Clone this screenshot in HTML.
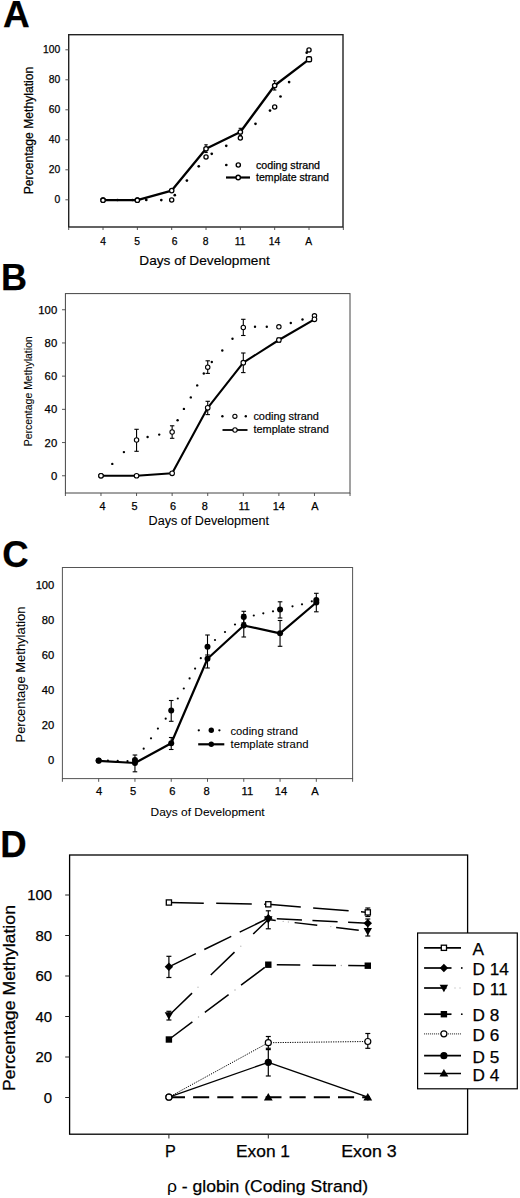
<!DOCTYPE html>
<html><head><meta charset="utf-8"><style>
html,body{margin:0;padding:0;background:#fff;overflow:hidden;width:520px;height:1198px;}
svg{display:block;}
text{font-family:"Liberation Sans",sans-serif;fill:#000;stroke:#000;stroke-width:0.25px;}
text.lt{stroke-width:0.08px;}
text.md{stroke-width:0.18px;}
</style></head><body>
<svg width="520" height="1198" viewBox="0 0 520 1198">
<rect width="520" height="1198" fill="#fff"/>
<text x="3.0" y="27.3" font-size="37" text-anchor="start" font-weight="bold">A</text>
<rect x="68.7" y="34.7" width="274.3" height="192.3" fill="none" stroke="#222" stroke-width="1.4"/>
<line x1="65.4" y1="199.8" x2="68.7" y2="199.8" stroke="#444" stroke-width="0.9"/>
<text x="60.3" y="203.3" font-size="10.3" text-anchor="end">0</text>
<line x1="65.4" y1="169.8" x2="68.7" y2="169.8" stroke="#444" stroke-width="0.9"/>
<text x="60.3" y="173.3" font-size="10.3" text-anchor="end">20</text>
<line x1="65.4" y1="139.8" x2="68.7" y2="139.8" stroke="#444" stroke-width="0.9"/>
<text x="60.3" y="143.3" font-size="10.3" text-anchor="end">40</text>
<line x1="65.4" y1="109.80000000000001" x2="68.7" y2="109.80000000000001" stroke="#444" stroke-width="0.9"/>
<text x="60.3" y="113.30000000000001" font-size="10.3" text-anchor="end">60</text>
<line x1="65.4" y1="79.80000000000001" x2="68.7" y2="79.80000000000001" stroke="#444" stroke-width="0.9"/>
<text x="60.3" y="83.30000000000001" font-size="10.3" text-anchor="end">80</text>
<line x1="65.4" y1="49.80000000000001" x2="68.7" y2="49.80000000000001" stroke="#444" stroke-width="0.9"/>
<text x="60.3" y="53.30000000000001" font-size="10.3" text-anchor="end">100</text>
<line x1="68.7" y1="227.0" x2="68.7" y2="230.0" stroke="#444" stroke-width="0.9"/>
<line x1="103.03" y1="227.0" x2="103.03" y2="230.0" stroke="#444" stroke-width="0.9"/>
<line x1="137.36" y1="227.0" x2="137.36" y2="230.0" stroke="#444" stroke-width="0.9"/>
<line x1="171.69" y1="227.0" x2="171.69" y2="230.0" stroke="#444" stroke-width="0.9"/>
<line x1="206.01999999999998" y1="227.0" x2="206.01999999999998" y2="230.0" stroke="#444" stroke-width="0.9"/>
<line x1="240.34999999999997" y1="227.0" x2="240.34999999999997" y2="230.0" stroke="#444" stroke-width="0.9"/>
<line x1="274.68" y1="227.0" x2="274.68" y2="230.0" stroke="#444" stroke-width="0.9"/>
<line x1="309.01" y1="227.0" x2="309.01" y2="230.0" stroke="#444" stroke-width="0.9"/>
<line x1="343.34" y1="227.0" x2="343.34" y2="230.0" stroke="#444" stroke-width="0.9"/>
<text x="103.1" y="245.0" font-size="10.3" text-anchor="middle">4</text>
<text x="137.0" y="245.0" font-size="10.3" text-anchor="middle">5</text>
<text x="174.6" y="245.0" font-size="10.3" text-anchor="middle">6</text>
<text x="205.6" y="245.0" font-size="10.3" text-anchor="middle">8</text>
<text x="240.1" y="245.0" font-size="10.3" text-anchor="middle">11</text>
<text x="274.6" y="245.0" font-size="10.3" text-anchor="middle">14</text>
<text x="308.6" y="245.0" font-size="10.3" text-anchor="middle">A</text>
<text x="139.3" y="264.6" font-size="13.5" text-anchor="start" textLength="130.5" lengthAdjust="spacingAndGlyphs" class="md">Days of Development</text>
<text transform="translate(32.6,130.5) rotate(-90)" x="0" y="0" font-size="12" text-anchor="middle" textLength="127.5" lengthAdjust="spacingAndGlyphs">Percentage Methylation</text>
<circle cx="117.5" cy="200" r="1.35" fill="#000"/>
<circle cx="132.5" cy="200" r="1.35" fill="#000"/>
<circle cx="146.3" cy="199.9" r="1.35" fill="#000"/>
<circle cx="161.3" cy="200.1" r="1.35" fill="#000"/>
<circle cx="174.8" cy="195.2" r="1.35" fill="#000"/>
<circle cx="186.9" cy="180.6" r="1.35" fill="#000"/>
<circle cx="198.75" cy="166.3" r="1.35" fill="#000"/>
<circle cx="211.75" cy="153.8" r="1.35" fill="#000"/>
<circle cx="226.25" cy="145.8" r="1.35" fill="#000"/>
<circle cx="255.5" cy="123.8" r="1.35" fill="#000"/>
<circle cx="270.0" cy="110.6" r="1.35" fill="#000"/>
<circle cx="280.5" cy="96.5" r="1.35" fill="#000"/>
<circle cx="289.1" cy="82.1" r="1.35" fill="#000"/>
<circle cx="306.7" cy="52.7" r="1.35" fill="#000"/>
<polyline points="103.03,200.20 137.36,200.20 171.69,190.60 206.02,148.80 240.35,132.00 274.68,85.50 309.01,59.30" fill="none" stroke="#000" stroke-width="2.3" stroke-linecap="butt" stroke-linejoin="round"/>
<line x1="206.01999999999998" y1="144.8" x2="206.01999999999998" y2="152.5" stroke="#000" stroke-width="1.1"/>
<line x1="204.32" y1="144.8" x2="207.71999999999997" y2="144.8" stroke="#000" stroke-width="1.1"/>
<line x1="204.32" y1="152.5" x2="207.71999999999997" y2="152.5" stroke="#000" stroke-width="1.1"/>
<line x1="240.34999999999997" y1="128.3" x2="240.34999999999997" y2="135.5" stroke="#000" stroke-width="1.1"/>
<line x1="238.64999999999998" y1="128.3" x2="242.04999999999995" y2="128.3" stroke="#000" stroke-width="1.1"/>
<line x1="238.64999999999998" y1="135.5" x2="242.04999999999995" y2="135.5" stroke="#000" stroke-width="1.1"/>
<line x1="274.68" y1="80.8" x2="274.68" y2="90" stroke="#000" stroke-width="1.1"/>
<line x1="272.98" y1="80.8" x2="276.38" y2="80.8" stroke="#000" stroke-width="1.1"/>
<line x1="272.98" y1="90" x2="276.38" y2="90" stroke="#000" stroke-width="1.1"/>
<circle cx="103.03" cy="200.00" r="2.1" fill="#fff" stroke="#000" stroke-width="1.3"/>
<circle cx="137.36" cy="200.00" r="2.1" fill="#fff" stroke="#000" stroke-width="1.3"/>
<circle cx="171.69" cy="200.00" r="2.1" fill="#fff" stroke="#000" stroke-width="1.3"/>
<circle cx="206.02" cy="157.00" r="2.1" fill="#fff" stroke="#000" stroke-width="1.3"/>
<circle cx="240.35" cy="138.00" r="2.1" fill="#fff" stroke="#000" stroke-width="1.3"/>
<circle cx="274.68" cy="107.00" r="2.1" fill="#fff" stroke="#000" stroke-width="1.3"/>
<circle cx="309.01" cy="50.00" r="2.1" fill="#fff" stroke="#000" stroke-width="1.3"/>
<circle cx="103.03" cy="200.20" r="2.2" fill="#fff" stroke="#000" stroke-width="1.3"/>
<circle cx="137.36" cy="200.20" r="2.2" fill="#fff" stroke="#000" stroke-width="1.3"/>
<circle cx="171.69" cy="190.60" r="2.2" fill="#fff" stroke="#000" stroke-width="1.3"/>
<circle cx="206.02" cy="148.80" r="2.2" fill="#fff" stroke="#000" stroke-width="1.3"/>
<circle cx="240.35" cy="132.00" r="2.2" fill="#fff" stroke="#000" stroke-width="1.3"/>
<circle cx="274.68" cy="85.50" r="2.2" fill="#fff" stroke="#000" stroke-width="1.3"/>
<rect x="306.51" y="56.80" width="5" height="5" rx="1.4" fill="#fff" stroke="#000" stroke-width="1.4"/>
<circle cx="226.3" cy="165" r="1.35" fill="#000"/>
<circle cx="238.30" cy="165.00" r="2.1" fill="#fff" stroke="#000" stroke-width="1.4"/>
<text x="256.0" y="168.8" font-size="10.5" text-anchor="start" textLength="64" lengthAdjust="spacingAndGlyphs">coding strand</text>
<line x1="226" y1="177.5" x2="250" y2="177.5" stroke="#000" stroke-width="2.2"/>
<circle cx="238.20" cy="177.50" r="2.2" fill="#fff" stroke="#000" stroke-width="1.4"/>
<text x="256.0" y="181.3" font-size="10.5" text-anchor="start" textLength="73" lengthAdjust="spacingAndGlyphs">template strand</text>
<text x="1.0" y="289.6" font-size="36" text-anchor="start" font-weight="bold">B</text>
<rect x="65.4" y="293.6" width="284.6" height="199.39999999999998" fill="none" stroke="#444" stroke-width="1"/>
<line x1="62" y1="475.75" x2="65.4" y2="475.75" stroke="#444" stroke-width="0.9"/>
<text x="57.2" y="479.75" font-size="11.3" text-anchor="end">0</text>
<line x1="62" y1="442.55" x2="65.4" y2="442.55" stroke="#444" stroke-width="0.9"/>
<text x="57.2" y="446.55" font-size="11.3" text-anchor="end">20</text>
<line x1="62" y1="409.35" x2="65.4" y2="409.35" stroke="#444" stroke-width="0.9"/>
<text x="57.2" y="413.35" font-size="11.3" text-anchor="end">40</text>
<line x1="62" y1="376.15" x2="65.4" y2="376.15" stroke="#444" stroke-width="0.9"/>
<text x="57.2" y="380.15" font-size="11.3" text-anchor="end">60</text>
<line x1="62" y1="342.95000000000005" x2="65.4" y2="342.95000000000005" stroke="#444" stroke-width="0.9"/>
<text x="57.2" y="346.95000000000005" font-size="11.3" text-anchor="end">80</text>
<line x1="62" y1="309.75" x2="65.4" y2="309.75" stroke="#444" stroke-width="0.9"/>
<text x="57.2" y="313.75" font-size="11.3" text-anchor="end">100</text>
<line x1="65.4" y1="493.0" x2="65.4" y2="496.0" stroke="#444" stroke-width="0.9"/>
<line x1="100.98" y1="493.0" x2="100.98" y2="496.0" stroke="#444" stroke-width="0.9"/>
<line x1="136.56" y1="493.0" x2="136.56" y2="496.0" stroke="#444" stroke-width="0.9"/>
<line x1="172.14" y1="493.0" x2="172.14" y2="496.0" stroke="#444" stroke-width="0.9"/>
<line x1="207.72" y1="493.0" x2="207.72" y2="496.0" stroke="#444" stroke-width="0.9"/>
<line x1="243.29999999999998" y1="493.0" x2="243.29999999999998" y2="496.0" stroke="#444" stroke-width="0.9"/>
<line x1="278.88" y1="493.0" x2="278.88" y2="496.0" stroke="#444" stroke-width="0.9"/>
<line x1="314.46000000000004" y1="493.0" x2="314.46000000000004" y2="496.0" stroke="#444" stroke-width="0.9"/>
<line x1="350.03999999999996" y1="493.0" x2="350.03999999999996" y2="496.0" stroke="#444" stroke-width="0.9"/>
<text x="102.5" y="509.6" font-size="10.9" text-anchor="middle">4</text>
<text x="134.6" y="509.6" font-size="10.9" text-anchor="middle">5</text>
<text x="173.0" y="509.6" font-size="10.9" text-anchor="middle">6</text>
<text x="204.8" y="509.6" font-size="10.9" text-anchor="middle">8</text>
<text x="244.2" y="509.6" font-size="10.9" text-anchor="middle">11</text>
<text x="278.7" y="509.6" font-size="10.9" text-anchor="middle">14</text>
<text x="314.8" y="509.6" font-size="10.9" text-anchor="middle">A</text>
<text x="148.6" y="524.5" font-size="12.3" text-anchor="start" textLength="120.5" lengthAdjust="spacingAndGlyphs" class="lt">Days of Development</text>
<text transform="translate(31.8,391.3) rotate(-90)" x="0" y="0" font-size="10.6" text-anchor="middle" textLength="110" lengthAdjust="spacingAndGlyphs" class="lt">Percentage Methylation</text>
<circle cx="112.3" cy="463.9" r="1.2" fill="#000"/>
<circle cx="123.9" cy="452.1" r="1.2" fill="#000"/>
<circle cx="147.6" cy="437.0" r="1.2" fill="#000"/>
<circle cx="159.2" cy="434.6" r="1.2" fill="#000"/>
<circle cx="177.6" cy="420.3" r="1.2" fill="#000"/>
<circle cx="183.9" cy="408.9" r="1.2" fill="#000"/>
<circle cx="190.8" cy="397.4" r="1.2" fill="#000"/>
<circle cx="197.2" cy="385.4" r="1.2" fill="#000"/>
<circle cx="203.8" cy="373.5" r="1.2" fill="#000"/>
<circle cx="211.8" cy="362.0" r="1.2" fill="#000"/>
<circle cx="222.3" cy="350.5" r="1.2" fill="#000"/>
<circle cx="232.5" cy="338.8" r="1.2" fill="#000"/>
<circle cx="255.0" cy="326.8" r="1.2" fill="#000"/>
<circle cx="266.8" cy="326.8" r="1.2" fill="#000"/>
<circle cx="290.8" cy="323.0" r="1.2" fill="#000"/>
<circle cx="302.5" cy="319.5" r="1.2" fill="#000"/>
<polyline points="100.98,475.75 136.56,475.75 172.14,473.30 207.72,407.80 243.30,362.70 278.88,340.00 314.46,319.30" fill="none" stroke="#000" stroke-width="2.1" stroke-linecap="butt" stroke-linejoin="round"/>
<line x1="136.56" y1="429.3" x2="136.56" y2="451.3" stroke="#000" stroke-width="1.1"/>
<line x1="134.36" y1="429.3" x2="138.76" y2="429.3" stroke="#000" stroke-width="1.1"/>
<line x1="134.36" y1="451.3" x2="138.76" y2="451.3" stroke="#000" stroke-width="1.1"/>
<line x1="172.14" y1="425.8" x2="172.14" y2="438.3" stroke="#000" stroke-width="1.1"/>
<line x1="169.94" y1="425.8" x2="174.33999999999997" y2="425.8" stroke="#000" stroke-width="1.1"/>
<line x1="169.94" y1="438.3" x2="174.33999999999997" y2="438.3" stroke="#000" stroke-width="1.1"/>
<line x1="207.72" y1="360.8" x2="207.72" y2="373.4" stroke="#000" stroke-width="1.1"/>
<line x1="205.52" y1="360.8" x2="209.92" y2="360.8" stroke="#000" stroke-width="1.1"/>
<line x1="205.52" y1="373.4" x2="209.92" y2="373.4" stroke="#000" stroke-width="1.1"/>
<line x1="243.29999999999998" y1="319.3" x2="243.29999999999998" y2="335.5" stroke="#000" stroke-width="1.1"/>
<line x1="241.1" y1="319.3" x2="245.49999999999997" y2="319.3" stroke="#000" stroke-width="1.1"/>
<line x1="241.1" y1="335.5" x2="245.49999999999997" y2="335.5" stroke="#000" stroke-width="1.1"/>
<line x1="207.72" y1="401.3" x2="207.72" y2="414.6" stroke="#000" stroke-width="1.1"/>
<line x1="205.52" y1="401.3" x2="209.92" y2="401.3" stroke="#000" stroke-width="1.1"/>
<line x1="205.52" y1="414.6" x2="209.92" y2="414.6" stroke="#000" stroke-width="1.1"/>
<line x1="243.29999999999998" y1="353.0" x2="243.29999999999998" y2="372.6" stroke="#000" stroke-width="1.1"/>
<line x1="241.1" y1="353.0" x2="245.49999999999997" y2="353.0" stroke="#000" stroke-width="1.1"/>
<line x1="241.1" y1="372.6" x2="245.49999999999997" y2="372.6" stroke="#000" stroke-width="1.1"/>
<line x1="278.88" y1="338" x2="278.88" y2="342" stroke="#000" stroke-width="1.1"/>
<line x1="276.68" y1="338" x2="281.08" y2="338" stroke="#000" stroke-width="1.1"/>
<line x1="276.68" y1="342" x2="281.08" y2="342" stroke="#000" stroke-width="1.1"/>
<circle cx="100.98" cy="475.75" r="2.2" fill="#fff" stroke="#000" stroke-width="1.1"/>
<circle cx="136.56" cy="440.00" r="2.2" fill="#fff" stroke="#000" stroke-width="1.1"/>
<circle cx="172.14" cy="432.00" r="2.2" fill="#fff" stroke="#000" stroke-width="1.1"/>
<circle cx="207.72" cy="367.20" r="2.2" fill="#fff" stroke="#000" stroke-width="1.1"/>
<circle cx="243.30" cy="327.50" r="2.2" fill="#fff" stroke="#000" stroke-width="1.1"/>
<circle cx="278.88" cy="326.80" r="2.2" fill="#fff" stroke="#000" stroke-width="1.1"/>
<circle cx="314.46" cy="315.80" r="2.2" fill="#fff" stroke="#000" stroke-width="1.1"/>
<circle cx="100.98" cy="475.75" r="2.3" fill="#fff" stroke="#000" stroke-width="1.1"/>
<circle cx="136.56" cy="475.75" r="2.3" fill="#fff" stroke="#000" stroke-width="1.1"/>
<circle cx="172.14" cy="473.30" r="2.3" fill="#fff" stroke="#000" stroke-width="1.1"/>
<circle cx="207.72" cy="407.80" r="2.3" fill="#fff" stroke="#000" stroke-width="1.1"/>
<circle cx="243.30" cy="362.70" r="2.3" fill="#fff" stroke="#000" stroke-width="1.1"/>
<circle cx="278.88" cy="340.00" r="2.3" fill="#fff" stroke="#000" stroke-width="1.1"/>
<circle cx="314.46" cy="319.30" r="2.3" fill="#fff" stroke="#000" stroke-width="1.1"/>
<circle cx="222.4" cy="416.3" r="1.2" fill="#000"/><circle cx="245.8" cy="416.3" r="1.2" fill="#000"/>
<circle cx="234.90" cy="416.30" r="2.1" fill="#fff" stroke="#000" stroke-width="1.1"/>
<text x="253.4" y="420.0" font-size="11" text-anchor="start" textLength="65.5" lengthAdjust="spacingAndGlyphs" class="md">coding strand</text>
<line x1="222.5" y1="430" x2="247.5" y2="430" stroke="#000" stroke-width="1.8"/>
<circle cx="235.00" cy="430.00" r="2.2" fill="#fff" stroke="#000" stroke-width="1.1"/>
<text x="253.4" y="433.2" font-size="11" text-anchor="start" textLength="75.5" lengthAdjust="spacingAndGlyphs" class="md">template strand</text>
<text x="2.3" y="566.5" font-size="36.5" text-anchor="start" font-weight="bold">C</text>
<rect x="62.4" y="567.5" width="290.20000000000005" height="211.10000000000002" fill="none" stroke="#555" stroke-width="1"/>
<text x="54.3" y="763.9" font-size="11.2" text-anchor="end">0</text>
<text x="54.3" y="728.9" font-size="11.2" text-anchor="end">20</text>
<text x="54.3" y="693.9" font-size="11.2" text-anchor="end">40</text>
<text x="54.3" y="658.9" font-size="11.2" text-anchor="end">60</text>
<text x="54.3" y="623.9" font-size="11.2" text-anchor="end">80</text>
<text x="54.3" y="588.9" font-size="11.2" text-anchor="end">100</text>
<line x1="62.4" y1="778.6" x2="62.4" y2="781.8000000000001" stroke="#444" stroke-width="0.9"/>
<line x1="98.675" y1="778.6" x2="98.675" y2="781.8000000000001" stroke="#444" stroke-width="0.9"/>
<line x1="134.95" y1="778.6" x2="134.95" y2="781.8000000000001" stroke="#444" stroke-width="0.9"/>
<line x1="171.225" y1="778.6" x2="171.225" y2="781.8000000000001" stroke="#444" stroke-width="0.9"/>
<line x1="207.5" y1="778.6" x2="207.5" y2="781.8000000000001" stroke="#444" stroke-width="0.9"/>
<line x1="243.775" y1="778.6" x2="243.775" y2="781.8000000000001" stroke="#444" stroke-width="0.9"/>
<line x1="280.04999999999995" y1="778.6" x2="280.04999999999995" y2="781.8000000000001" stroke="#444" stroke-width="0.9"/>
<line x1="316.325" y1="778.6" x2="316.325" y2="781.8000000000001" stroke="#444" stroke-width="0.9"/>
<line x1="352.59999999999997" y1="778.6" x2="352.59999999999997" y2="781.8000000000001" stroke="#444" stroke-width="0.9"/>
<text x="99.1" y="795.4" font-size="11.2" text-anchor="middle">4</text>
<text x="133.0" y="795.4" font-size="11.2" text-anchor="middle">5</text>
<text x="172.4" y="795.4" font-size="11.2" text-anchor="middle">6</text>
<text x="206.5" y="795.4" font-size="11.2" text-anchor="middle">8</text>
<text x="247.4" y="795.4" font-size="11.2" text-anchor="middle">11</text>
<text x="281.1" y="795.4" font-size="11.2" text-anchor="middle">14</text>
<text x="315.1" y="795.4" font-size="11.2" text-anchor="middle">A</text>
<text x="150.6" y="815.6" font-size="11.8" text-anchor="start" textLength="114" lengthAdjust="spacingAndGlyphs" class="lt">Days of Development</text>
<text transform="translate(24.6,674.5) rotate(-90)" x="0" y="0" font-size="12.9" text-anchor="middle" textLength="136" lengthAdjust="spacingAndGlyphs" class="lt">Percentage Methylation</text>
<circle cx="107.9" cy="760.7" r="1.1" fill="#000"/>
<circle cx="117.7" cy="760.9" r="1.1" fill="#000"/>
<circle cx="127.5" cy="761.2" r="1.1" fill="#000"/>
<circle cx="143.7" cy="748.7" r="1.1" fill="#000"/>
<circle cx="151.0" cy="738.3" r="1.1" fill="#000"/>
<circle cx="157.9" cy="728.6" r="1.1" fill="#000"/>
<circle cx="165.7" cy="718.7" r="1.1" fill="#000"/>
<circle cx="177.8" cy="698.5" r="1.1" fill="#000"/>
<circle cx="183.8" cy="688.5" r="1.1" fill="#000"/>
<circle cx="189.6" cy="678.4" r="1.1" fill="#000"/>
<circle cx="195.1" cy="668.6" r="1.1" fill="#000"/>
<circle cx="200.8" cy="658.2" r="1.1" fill="#000"/>
<circle cx="215.0" cy="640.0" r="1.1" fill="#000"/>
<circle cx="225.0" cy="632.0" r="1.1" fill="#000"/>
<circle cx="235.0" cy="624.5" r="1.1" fill="#000"/>
<circle cx="253.8" cy="615.5" r="1.1" fill="#000"/>
<circle cx="263.3" cy="613.3" r="1.1" fill="#000"/>
<circle cx="273.0" cy="611.3" r="1.1" fill="#000"/>
<circle cx="292.5" cy="606.3" r="1.1" fill="#000"/>
<circle cx="302.0" cy="604.3" r="1.1" fill="#000"/>
<circle cx="311.8" cy="601.3" r="1.1" fill="#000"/>
<polyline points="98.67,760.80 134.95,763.00 171.22,743.30 207.50,658.80 243.78,625.50 280.05,633.30 316.32,602.50" fill="none" stroke="#000" stroke-width="2.2" stroke-linecap="butt" stroke-linejoin="round"/>
<line x1="134.95" y1="755.0" x2="134.95" y2="771.8" stroke="#000" stroke-width="1.1"/>
<line x1="132.64999999999998" y1="755.0" x2="137.25" y2="755.0" stroke="#000" stroke-width="1.1"/>
<line x1="132.64999999999998" y1="771.8" x2="137.25" y2="771.8" stroke="#000" stroke-width="1.1"/>
<line x1="171.225" y1="700.5" x2="171.225" y2="721.3" stroke="#000" stroke-width="1.1"/>
<line x1="168.92499999999998" y1="700.5" x2="173.525" y2="700.5" stroke="#000" stroke-width="1.1"/>
<line x1="168.92499999999998" y1="721.3" x2="173.525" y2="721.3" stroke="#000" stroke-width="1.1"/>
<line x1="207.5" y1="635.0" x2="207.5" y2="658.8" stroke="#000" stroke-width="1.1"/>
<line x1="205.2" y1="635.0" x2="209.8" y2="635.0" stroke="#000" stroke-width="1.1"/>
<line x1="205.2" y1="658.8" x2="209.8" y2="658.8" stroke="#000" stroke-width="1.1"/>
<line x1="243.775" y1="611.3" x2="243.775" y2="622.8" stroke="#000" stroke-width="1.1"/>
<line x1="241.475" y1="611.3" x2="246.07500000000002" y2="611.3" stroke="#000" stroke-width="1.1"/>
<line x1="241.475" y1="622.8" x2="246.07500000000002" y2="622.8" stroke="#000" stroke-width="1.1"/>
<line x1="280.04999999999995" y1="601.8" x2="280.04999999999995" y2="618.0" stroke="#000" stroke-width="1.1"/>
<line x1="277.74999999999994" y1="601.8" x2="282.34999999999997" y2="601.8" stroke="#000" stroke-width="1.1"/>
<line x1="277.74999999999994" y1="618.0" x2="282.34999999999997" y2="618.0" stroke="#000" stroke-width="1.1"/>
<line x1="316.325" y1="593.3" x2="316.325" y2="611.8" stroke="#000" stroke-width="1.1"/>
<line x1="314.025" y1="593.3" x2="318.625" y2="593.3" stroke="#000" stroke-width="1.1"/>
<line x1="314.025" y1="611.8" x2="318.625" y2="611.8" stroke="#000" stroke-width="1.1"/>
<line x1="171.225" y1="737.5" x2="171.225" y2="749.5" stroke="#000" stroke-width="1.1"/>
<line x1="168.92499999999998" y1="737.5" x2="173.525" y2="737.5" stroke="#000" stroke-width="1.1"/>
<line x1="168.92499999999998" y1="749.5" x2="173.525" y2="749.5" stroke="#000" stroke-width="1.1"/>
<line x1="207.5" y1="655.0" x2="207.5" y2="668.0" stroke="#000" stroke-width="1.1"/>
<line x1="205.2" y1="655.0" x2="209.8" y2="655.0" stroke="#000" stroke-width="1.1"/>
<line x1="205.2" y1="668.0" x2="209.8" y2="668.0" stroke="#000" stroke-width="1.1"/>
<line x1="243.775" y1="614.5" x2="243.775" y2="637.0" stroke="#000" stroke-width="1.1"/>
<line x1="241.475" y1="614.5" x2="246.07500000000002" y2="614.5" stroke="#000" stroke-width="1.1"/>
<line x1="241.475" y1="637.0" x2="246.07500000000002" y2="637.0" stroke="#000" stroke-width="1.1"/>
<line x1="280.04999999999995" y1="620.5" x2="280.04999999999995" y2="646.3" stroke="#000" stroke-width="1.1"/>
<line x1="277.74999999999994" y1="620.5" x2="282.34999999999997" y2="620.5" stroke="#000" stroke-width="1.1"/>
<line x1="277.74999999999994" y1="646.3" x2="282.34999999999997" y2="646.3" stroke="#000" stroke-width="1.1"/>
<circle cx="98.67" cy="760.50" r="3.0" fill="#000" stroke="#000" stroke-width="0"/>
<circle cx="134.95" cy="760.00" r="3.0" fill="#000" stroke="#000" stroke-width="0"/>
<circle cx="171.22" cy="710.50" r="3.0" fill="#000" stroke="#000" stroke-width="0"/>
<circle cx="207.50" cy="646.80" r="3.0" fill="#000" stroke="#000" stroke-width="0"/>
<circle cx="243.78" cy="617.00" r="3.0" fill="#000" stroke="#000" stroke-width="0"/>
<circle cx="280.05" cy="609.50" r="3.0" fill="#000" stroke="#000" stroke-width="0"/>
<circle cx="316.32" cy="600.00" r="3.0" fill="#000" stroke="#000" stroke-width="0"/>
<circle cx="98.67" cy="760.80" r="3.0" fill="#000" stroke="#000" stroke-width="0"/>
<circle cx="134.95" cy="763.00" r="3.0" fill="#000" stroke="#000" stroke-width="0"/>
<circle cx="171.22" cy="743.30" r="3.0" fill="#000" stroke="#000" stroke-width="0"/>
<circle cx="207.50" cy="658.80" r="3.0" fill="#000" stroke="#000" stroke-width="0"/>
<circle cx="243.78" cy="625.50" r="3.0" fill="#000" stroke="#000" stroke-width="0"/>
<circle cx="280.05" cy="633.30" r="3.0" fill="#000" stroke="#000" stroke-width="0"/>
<circle cx="316.32" cy="602.50" r="3.0" fill="#000" stroke="#000" stroke-width="0"/>
<circle cx="198.8" cy="730.3" r="1.15" fill="#000"/><circle cx="219.4" cy="730.3" r="1.15" fill="#000"/>
<circle cx="211.30" cy="730.30" r="2.7" fill="#000" stroke="#000" stroke-width="0"/>
<text x="230.5" y="734.5" font-size="11.15" text-anchor="start" textLength="67.5" lengthAdjust="spacingAndGlyphs" class="lt">coding strand</text>
<line x1="198.2" y1="744.3" x2="224.3" y2="744.3" stroke="#000" stroke-width="2.2"/>
<circle cx="211.30" cy="744.30" r="2.7" fill="#000" stroke="#000" stroke-width="0"/>
<text x="230.5" y="747.6" font-size="11.15" text-anchor="start" textLength="78" lengthAdjust="spacingAndGlyphs" class="lt">template strand</text>
<text x="0.3" y="856.7" font-size="36.5" text-anchor="start" font-weight="bold">D</text>
<rect x="69.6" y="855.0" width="398.0" height="279.20000000000005" fill="none" stroke="#000" stroke-width="1.3"/>
<line x1="65.2" y1="1097.5" x2="69.6" y2="1097.5" stroke="#222" stroke-width="1.0"/>
<text x="52.0" y="1102.6" font-size="14.9" text-anchor="end">0</text>
<line x1="65.2" y1="1057.0" x2="69.6" y2="1057.0" stroke="#222" stroke-width="1.0"/>
<text x="52.0" y="1062.1" font-size="14.9" text-anchor="end">20</text>
<line x1="65.2" y1="1016.5" x2="69.6" y2="1016.5" stroke="#222" stroke-width="1.0"/>
<text x="52.0" y="1021.6" font-size="14.9" text-anchor="end">40</text>
<line x1="65.2" y1="976.0" x2="69.6" y2="976.0" stroke="#222" stroke-width="1.0"/>
<text x="52.0" y="981.1" font-size="14.9" text-anchor="end">60</text>
<line x1="65.2" y1="935.5" x2="69.6" y2="935.5" stroke="#222" stroke-width="1.0"/>
<text x="52.0" y="940.6" font-size="14.9" text-anchor="end">80</text>
<line x1="65.2" y1="895.0" x2="69.6" y2="895.0" stroke="#222" stroke-width="1.0"/>
<text x="52.0" y="900.1" font-size="14.9" text-anchor="end">100</text>
<line x1="168.9" y1="1134.2" x2="168.9" y2="1138.5" stroke="#222" stroke-width="1.0"/>
<line x1="268.3" y1="1134.2" x2="268.3" y2="1138.5" stroke="#222" stroke-width="1.0"/>
<line x1="367.8" y1="1134.2" x2="367.8" y2="1138.5" stroke="#222" stroke-width="1.0"/>
<text x="170.4" y="1156.8" font-size="16.2" text-anchor="middle">P</text>
<text x="236.0" y="1156.8" font-size="16.2" text-anchor="start" textLength="54" lengthAdjust="spacingAndGlyphs">Exon 1</text>
<text x="341.2" y="1156.8" font-size="16.2" text-anchor="start" textLength="55.5" lengthAdjust="spacingAndGlyphs">Exon 3</text>
<text x="167.0" y="1192.2" font-size="17.2" textLength="201" lengthAdjust="spacingAndGlyphs"><tspan style="stroke-width:0">ρ</tspan> - globin (Coding Strand)</text>
<text transform="translate(14.9,998.0) rotate(-90)" x="0" y="0" font-size="17.0" text-anchor="middle" textLength="186" lengthAdjust="spacingAndGlyphs">Percentage Methylation</text>
<line x1="168.90" y1="902.50" x2="268.30" y2="904.30" stroke="#000" stroke-width="1.5" stroke-dasharray="35.6 12.4" stroke-dashoffset="0.70"/>
<line x1="268.30" y1="904.30" x2="367.80" y2="912.40" stroke="#000" stroke-width="1.5" stroke-dasharray="35.6 12.4" stroke-dashoffset="3.00"/>
<line x1="168.90" y1="966.80" x2="268.30" y2="918.20" stroke="#000" stroke-width="1.5" stroke-dasharray="30.0 9.4" stroke-dashoffset="0.00"/>
<line x1="268.30" y1="918.20" x2="367.80" y2="923.20" stroke="#000" stroke-width="1.5" stroke-dasharray="25.2 10.5" stroke-dashoffset="27.20"/>
<line x1="168.90" y1="1015.50" x2="268.30" y2="919.50" stroke="#000" stroke-width="1.5" stroke-dasharray="33.0 26.0" stroke-dashoffset="0.80"/>
<line x1="268.30" y1="919.50" x2="367.80" y2="931.30" stroke="#000" stroke-width="1.5" stroke-dasharray="22.8 19.0" stroke-dashoffset="15.30"/>
<line x1="168.90" y1="1039.50" x2="268.30" y2="964.70" stroke="#000" stroke-width="1.5" stroke-dasharray="29.7 15.6" stroke-dashoffset="0.30"/>
<line x1="268.30" y1="964.70" x2="367.80" y2="965.70" stroke="#000" stroke-width="1.5" stroke-dasharray="23.5 12.2" stroke-dashoffset="27.20"/>
<line x1="168.90" y1="1097.20" x2="268.30" y2="1042.70" stroke="#000" stroke-width="1.0" stroke-dasharray="1.2 1.2" stroke-dashoffset="0.00"/>
<line x1="268.30" y1="1042.70" x2="367.80" y2="1041.50" stroke="#000" stroke-width="1.0" stroke-dasharray="1.2 1.2" stroke-dashoffset="0.00"/>
<line x1="168.90" y1="1097.20" x2="268.30" y2="1062.30" stroke="#000" stroke-width="1.4"/>
<line x1="268.30" y1="1062.30" x2="367.80" y2="1097.20" stroke="#000" stroke-width="1.4"/>
<line x1="168.90" y1="1097.20" x2="268.30" y2="1097.30" stroke="#000" stroke-width="2.0" stroke-dasharray="16.1 8.1" stroke-dashoffset="0.00"/>
<line x1="268.30" y1="1097.30" x2="367.80" y2="1097.30" stroke="#000" stroke-width="2.0" stroke-dasharray="16.1 8.1" stroke-dashoffset="2.90"/>
<circle cx="198.0" cy="987.2" r="0.7" fill="#bbb"/>
<circle cx="240.8" cy="946.2" r="0.7" fill="#bbb"/>
<circle cx="283.2" cy="921.4" r="0.7" fill="#bbb"/>
<circle cx="288.4" cy="922.0" r="0.7" fill="#bbb"/>
<circle cx="330.8" cy="926.6" r="0.7" fill="#bbb"/>
<circle cx="341.3" cy="965.5" r="0.7" fill="#aaa"/>
<circle cx="198.5" cy="1017" r="0.7" fill="#aaa"/>
<circle cx="235" cy="990" r="0.7" fill="#aaa"/>
<line x1="168.9" y1="956.3" x2="168.9" y2="977.5" stroke="#000" stroke-width="1.2"/>
<line x1="166.4" y1="956.3" x2="171.4" y2="956.3" stroke="#000" stroke-width="1.2"/>
<line x1="166.4" y1="977.5" x2="171.4" y2="977.5" stroke="#000" stroke-width="1.2"/>
<line x1="268.3" y1="910.8" x2="268.3" y2="928.8" stroke="#000" stroke-width="1.2"/>
<line x1="265.8" y1="910.8" x2="270.8" y2="910.8" stroke="#000" stroke-width="1.2"/>
<line x1="265.8" y1="928.8" x2="270.8" y2="928.8" stroke="#000" stroke-width="1.2"/>
<line x1="168.9" y1="1011.3" x2="168.9" y2="1020.0" stroke="#000" stroke-width="1.2"/>
<line x1="166.4" y1="1011.3" x2="171.4" y2="1011.3" stroke="#000" stroke-width="1.2"/>
<line x1="166.4" y1="1020.0" x2="171.4" y2="1020.0" stroke="#000" stroke-width="1.2"/>
<line x1="268.3" y1="1036.5" x2="268.3" y2="1048.3" stroke="#000" stroke-width="1.2"/>
<line x1="265.8" y1="1036.5" x2="270.8" y2="1036.5" stroke="#000" stroke-width="1.2"/>
<line x1="265.8" y1="1048.3" x2="270.8" y2="1048.3" stroke="#000" stroke-width="1.2"/>
<line x1="367.8" y1="1033.5" x2="367.8" y2="1048.3" stroke="#000" stroke-width="1.2"/>
<line x1="365.3" y1="1033.5" x2="370.3" y2="1033.5" stroke="#000" stroke-width="1.2"/>
<line x1="365.3" y1="1048.3" x2="370.3" y2="1048.3" stroke="#000" stroke-width="1.2"/>
<line x1="268.3" y1="1049.6" x2="268.3" y2="1076.0" stroke="#000" stroke-width="1.2"/>
<line x1="265.8" y1="1049.6" x2="270.8" y2="1049.6" stroke="#000" stroke-width="1.2"/>
<line x1="265.8" y1="1076.0" x2="270.8" y2="1076.0" stroke="#000" stroke-width="1.2"/>
<line x1="367.8" y1="908.0" x2="367.8" y2="916.5" stroke="#000" stroke-width="1.2"/>
<line x1="365.3" y1="908.0" x2="370.3" y2="908.0" stroke="#000" stroke-width="1.2"/>
<line x1="365.3" y1="916.5" x2="370.3" y2="916.5" stroke="#000" stroke-width="1.2"/>
<line x1="367.8" y1="919" x2="367.8" y2="936" stroke="#000" stroke-width="1.2"/>
<line x1="365.3" y1="919" x2="370.3" y2="919" stroke="#000" stroke-width="1.2"/>
<line x1="365.3" y1="936" x2="370.3" y2="936" stroke="#000" stroke-width="1.2"/>
<circle cx="268.30" cy="1062.30" r="3.6" fill="#000" stroke="#000" stroke-width="0"/>
<circle cx="367.80" cy="1098.00" r="2.4" fill="#000" stroke="#000" stroke-width="0"/>
<polygon points="268.3,1092.8999999999999 272.7,1100.3799999999999 263.90000000000003,1100.3799999999999" fill="#000"/>
<polygon points="367.8,1092.8999999999999 372.2,1100.3799999999999 363.40000000000003,1100.3799999999999" fill="#000"/>
<circle cx="168.90" cy="1097.20" r="3.0" fill="#fff" stroke="#000" stroke-width="1.2"/>
<circle cx="268.30" cy="1042.70" r="3.0" fill="#fff" stroke="#000" stroke-width="1.2"/>
<circle cx="367.80" cy="1041.50" r="3.0" fill="#fff" stroke="#000" stroke-width="1.2"/>
<rect x="165.70" y="1036.30" width="6.40" height="6.40" fill="#000"/>
<rect x="265.10" y="961.50" width="6.40" height="6.40" fill="#000"/>
<rect x="364.60" y="962.50" width="6.40" height="6.40" fill="#000"/>
<polygon points="164.70000000000002,1012.14 173.1,1012.14 168.9,1019.7" fill="#000"/>
<polygon points="264.1,916.14 272.5,916.14 268.3,923.7" fill="#000"/>
<polygon points="363.6,927.9399999999999 372.0,927.9399999999999 367.8,935.5" fill="#000"/>
<polygon points="168.9,962.5999999999999 173.1,966.8 168.9,971.0 164.70000000000002,966.8" fill="#000"/>
<polygon points="268.3,914.0 272.5,918.2 268.3,922.4000000000001 264.1,918.2" fill="#000"/>
<polygon points="367.8,919.0 372.0,923.2 367.8,927.4000000000001 363.6,923.2" fill="#000"/>
<rect x="166.30" y="899.90" width="5.20" height="5.20" fill="#fff" stroke="#000" stroke-width="1.3"/>
<rect x="265.70" y="901.70" width="5.20" height="5.20" fill="#fff" stroke="#000" stroke-width="1.3"/>
<rect x="365.20" y="909.80" width="5.20" height="5.20" fill="#fff" stroke="#000" stroke-width="1.3"/>
<circle cx="168.90" cy="1097.20" r="3.0" fill="#fff" stroke="#000" stroke-width="1.2"/>
<rect x="417.6" y="933.0" width="99.7" height="155.8" fill="#fff" stroke="#000" stroke-width="1.2"/>
<line x1="424.1" y1="947.8" x2="461" y2="947.8" stroke="#000" stroke-width="1.7"/>
<rect x="441.30" y="945.20" width="5.20" height="5.20" fill="#fff" stroke="#000" stroke-width="1.3"/>
<text x="472.5" y="954.8" font-size="17.2" text-anchor="start">A</text>
<line x1="424.1" y1="968.0" x2="451.5" y2="968.0" stroke="#000" stroke-width="1.7"/>
<circle cx="461.8" cy="968.0" r="0.9" fill="#000"/>
<polygon points="443.9,963.8 448.09999999999997,968.0 443.9,972.2 439.7,968.0" fill="#000"/>
<text x="472.5" y="975.0" font-size="17.2" text-anchor="start">D 14</text>
<line x1="424.1" y1="988.0" x2="446.5" y2="988.0" stroke="#000" stroke-width="1.7"/>
<circle cx="455" cy="988.0" r="0.8" fill="#ccc"/><circle cx="460" cy="988.0" r="0.8" fill="#ccc"/>
<polygon points="439.7,984.64 448.09999999999997,984.64 443.9,992.2" fill="#000"/>
<text x="472.5" y="995.0" font-size="17.2" text-anchor="start">D 11</text>
<line x1="424.1" y1="1014.2" x2="451.5" y2="1014.2" stroke="#000" stroke-width="1.7"/>
<circle cx="461.8" cy="1014.2" r="0.9" fill="#000"/>
<rect x="440.70" y="1011.00" width="6.40" height="6.40" fill="#000"/>
<text x="472.5" y="1021.2" font-size="17.2" text-anchor="start">D 8</text>
<line x1="424.1" y1="1033.8" x2="461" y2="1033.8" stroke="#444" stroke-width="1.3" stroke-dasharray="1 1"/>
<circle cx="443.90" cy="1033.80" r="3.0" fill="#fff" stroke="#000" stroke-width="1.2"/>
<text x="472.5" y="1040.8" font-size="17.2" text-anchor="start">D 6</text>
<line x1="424.1" y1="1055.7" x2="461" y2="1055.7" stroke="#000" stroke-width="1.7"/>
<circle cx="443.90" cy="1055.70" r="3.6" fill="#000" stroke="#000" stroke-width="0"/>
<text x="472.5" y="1062.7" font-size="17.2" text-anchor="start">D 5</text>
<line x1="424.1" y1="1073.5" x2="461" y2="1073.5" stroke="#000" stroke-width="1.7"/>
<polygon points="443.9,1069.1 448.29999999999995,1076.58 439.5,1076.58" fill="#000"/>
<text x="472.5" y="1080.5" font-size="17.2" text-anchor="start">D 4</text>
</svg>
</body></html>
